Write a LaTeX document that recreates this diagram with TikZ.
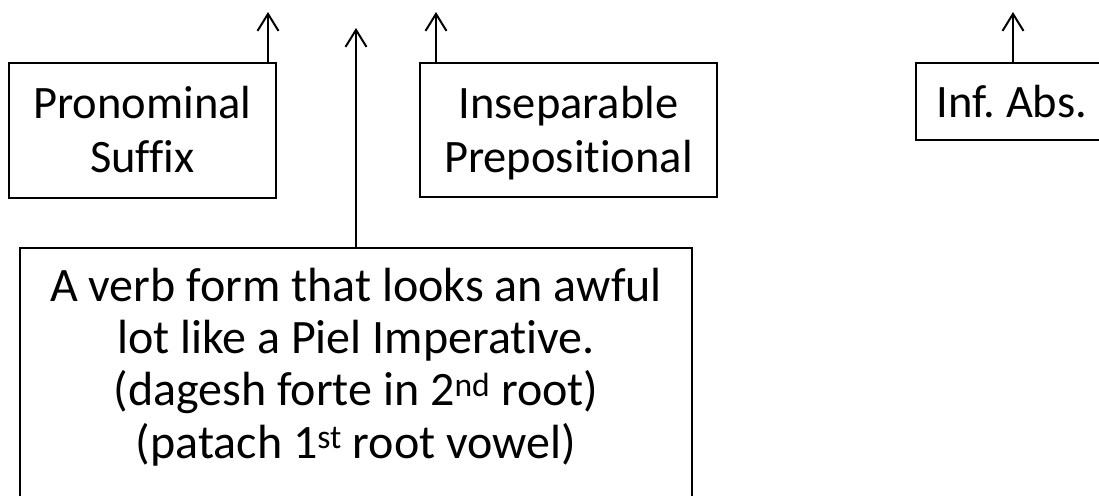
\documentclass[tikz,border=0pt]{standalone}
\usepackage{fontspec}
\setmainfont[Ligatures=NoCommon]{Carlito}
\frenchspacing
\usetikzlibrary{arrows.meta}
\begin{document}
\begin{tikzpicture}[x=1pt,y=-1pt,
  box/.style={draw=black, line width=2.3pt, inner sep=0pt, fill=white},
  txt/.style={align=center, inner sep=0pt, font=\fontsize{46.5}{54}\selectfont},
  bigtxt/.style={align=center, inner sep=0pt, font=\fontsize{48}{52.3}\selectfont},
  arr/.style={draw=black, line width=2pt, -{Straight Barb[length=17pt,width=21pt,line width=2pt]}}]
\useasboundingbox (0,0) rectangle (1099,495);
% top boxes
\node[box, minimum width=267pt, minimum height=135pt] (p) at (142.5,130.5) {};
\node[txt, anchor=base] (pt) at (142.5,172) {Pronominal\\Suffix};
\node[box, minimum width=297pt, minimum height=134pt] (q) at (568.5,130) {};
\node[txt, anchor=base] (qt) at (568.5,172) {Inseparable\\Prepositional};
\node[box, minimum width=194pt, minimum height=77pt] (r) at (1013,101.5) {};
\node[txt, anchor=base] (rt) at (1012,117) {Inf. Abs.};
% big box
\node[box, minimum width=672pt, minimum height=270pt, anchor=north] (big) at (356,247) {};
\node[bigtxt, anchor=base] (bt) at (356,458) {A verb form that looks an awful\\lot like a Piel Imperative.\\(dagesh forte in 2\textsuperscript{nd} root)\\(patach 1\textsuperscript{st} root vowel)};
% arrow tips
\coordinate (t1) at (268,12);
\coordinate (t2) at (356,28);
\coordinate (t3) at (436,12);
\coordinate (t4) at (1013,12);
\draw[arr] (p.north -| t1) -- (t1);
\draw[arr] (big.north) -- (t2);
\draw[arr] (q.north -| t3) -- (t3);
\draw[arr] (r.north) -- (t4);
\end{tikzpicture}
\end{document}
